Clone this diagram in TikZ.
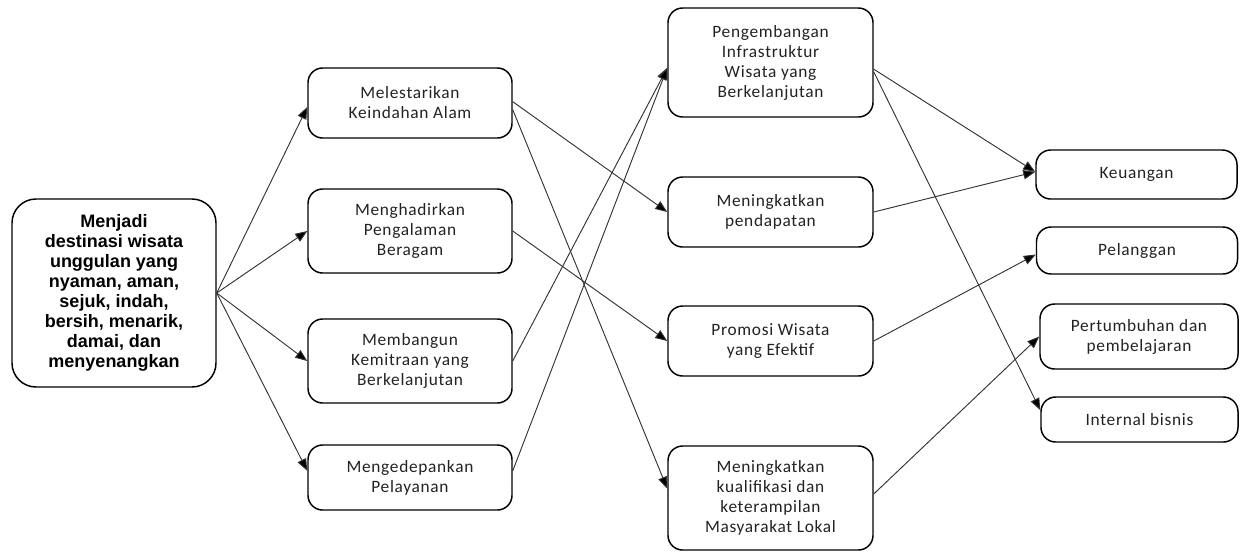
\documentclass[tikz,border=0pt]{standalone}
\usepackage{fontspec}
\usepackage{xcolor}
\usepackage{tikz}
\usetikzlibrary{positioning, arrows.meta}
\newfontfamily\boxfont{Carlito}[LetterSpace=4]
\newfontfamily\goalfont{Liberation Sans}
\definecolor{linegray}{HTML}{333333}
\definecolor{textgray}{HTML}{222222}

\begin{document}
\begin{tikzpicture}[x=0.75pt, y=-0.75pt,
    box/.style={draw, line width=1.1pt, rounded corners=11pt, align=center,
      inner sep=2pt, text=textgray, font=\boxfont\fontsize{13}{15}\selectfont},
    link/.style={draw=linegray, line width=0.7pt, -{Triangle[length=9pt, width=7pt, fill=black]}}]
  \useasboundingbox (0,0) rectangle (1241,551);

  \node[box, rounded corners=18pt, minimum width=153pt, minimum height=141pt, text=black,
        font=\goalfont\bfseries\fontsize{13.5}{15}\selectfont] (goal) at (114,293)
    {Menjadi\\destinasi wisata\\unggulan yang\\nyaman, aman,\\sejuk, indah,\\bersih, menarik,\\damai, dan\\menyenangkan};

  \node[box, minimum width=153pt, minimum height=52.5pt] (lestari) at (410,103) {Melestarikan\\Keindahan Alam};
  \node[box, minimum width=153pt, minimum height=63pt] (hadir) at (410,231) {Menghadirkan\\Pengalaman\\Beragam};
  \node[box, minimum width=153pt, minimum height=63pt] (mitra) at (410,361) {Membangun\\Kemitraan yang\\Berkelanjutan};
  \node[box, minimum width=153pt, minimum height=48.75pt] (layan) at (410,477.5) {Mengedepankan\\Pelayanan};

  \node[box, minimum width=153.75pt, minimum height=81.75pt] (infra) at (770.5,62.5) {Pengembangan\\Infrastruktur\\Wisata yang\\Berkelanjutan};
  \node[box, minimum width=153.75pt, minimum height=52.5pt] (dapat) at (770.5,212) {Meningkatkan\\pendapatan};
  \node[box, minimum width=153.75pt, minimum height=52.5pt] (promo) at (770.5,341) {Promosi Wisata\\yang Efektif};
  \node[box, minimum width=153.75pt, minimum height=78pt] (kualif) at (770.5,498) {Meningkatkan\\kualifikasi dan\\keterampilan\\Masyarakat Lokal};

  \node[box, minimum width=150.75pt, minimum height=36.75pt] (uang) at (1136.5,174.5) {Keuangan};
  \node[box, minimum width=150.75pt, minimum height=35.25pt] (langgan) at (1137,250.5) {Pelanggan};
  \node[box, minimum width=148.5pt, minimum height=48.75pt] (tumbuh) at (1139,336.5) {Pertumbuhan dan\\pembelajaran};
  \node[box, minimum width=147.75pt, minimum height=33.75pt] (bisnis) at (1139.5,419.5) {Internal bisnis};

  \draw[link] (goal.east) -- ([yshift=-3pt]lestari.west);
  \draw[link] (goal.east) -- (hadir.west);
  \draw[link] (goal.east) -- (mitra.west);
  \draw[link] (goal.east) -- ([yshift=5pt]layan.west);

  \draw[link] ([yshift=1pt]lestari.east) -- (dapat.west);
  \draw[link] ([yshift=-5pt]lestari.east) -- ([yshift=7pt]kualif.west);
  \draw[link] (hadir.east) -- (promo.west);
  \draw[link] (mitra.east) -- ([yshift=-4pt]infra.west);
  \draw[link] ([yshift=5pt]layan.east) -- ([yshift=-4pt]infra.west);

  \draw[link] ([yshift=-5pt]infra.east) -- ([yshift=2pt]uang.west);
  \draw[link] ([yshift=-7pt]infra.east) -- ([yshift=7pt]bisnis.west);
  \draw[link] (dapat.east) -- ([yshift=2pt]uang.west);
  \draw[link] (promo.east) -- ([yshift=-3pt]langgan.west);
  \draw[link] ([yshift=3pt]kualif.east) -- (tumbuh.west);
\end{tikzpicture}
\end{document}
